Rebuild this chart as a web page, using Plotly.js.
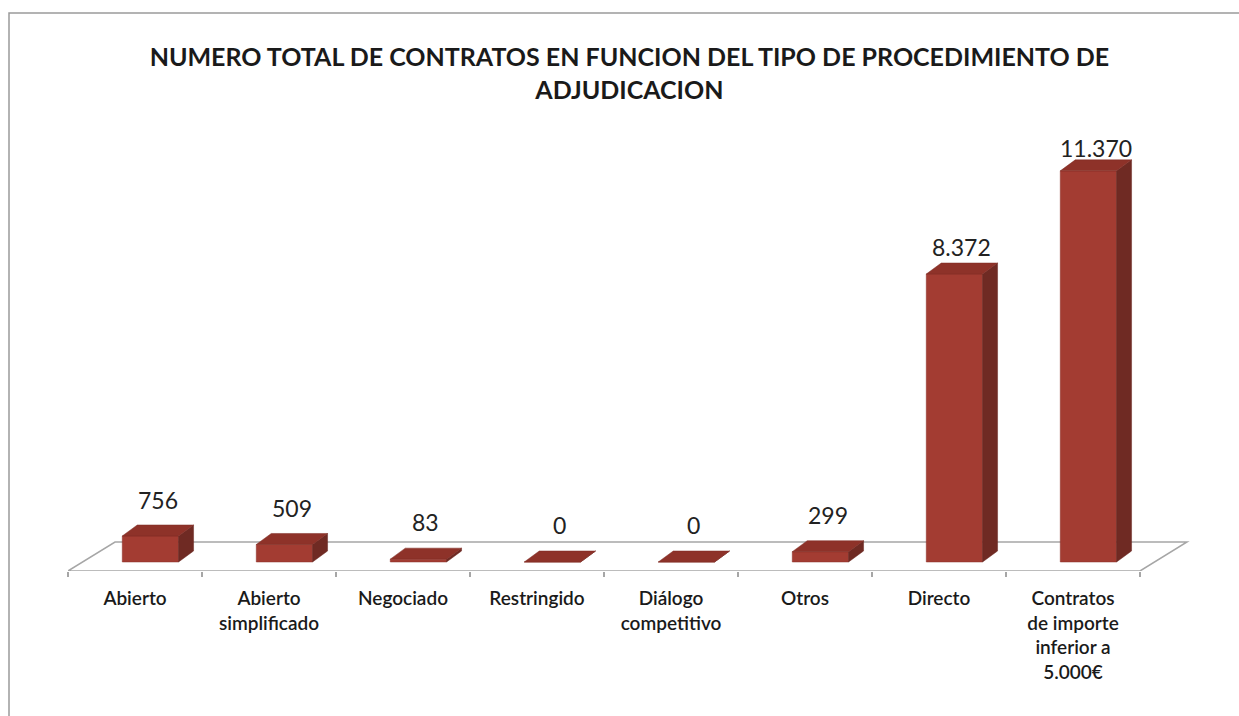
<!DOCTYPE html>
<html><head><meta charset="utf-8">
<script src="https://cdn.plot.ly/plotly-3.0.1.min.js"></script>
<style>html,body{margin:0;padding:0;background:#fff;}#chart{width:1239px;height:716px;}</style>
</head><body><div id="chart"></div>
<script>
// Data
var categories = ["Abierto", "Abierto<br>simplificado", "Negociado", "Restringido", "Diálogo<br>competitivo", "Otros", "Directo", "Contratos<br>de importe<br>inferior a<br>5.000€"];
var values = [756, 509, 83, 0, 0, 299, 8372, 11370];
var chartTitle = "NUMERO TOTAL DE CONTRATOS EN FUNCION DEL TIPO DE PROCEDIMIENTO DE<br>ADJUDICACION";

// Layout geometry
var W = 1239, H = 716;
var mL = 68, mR = 30, mT = 130, mB = 145;
var pxPerCat = 134;
var xMax = -0.5 + (W - mL - mR) / pxPerCat;
var yMin = -262, yMax = 12558;
var pxPerUnitY = (H - mT - mB) / (yMax - yMin);
var depthX = 15 / pxPerCat;       // 3D depth, category units
var depthY = 11 / pxPerUnitY;     // 3D depth, value units
var barShift = 0.115, barW = 0.42;
var floorBack = 581, floorShift = 47 / pxPerCat;
var maxV = Math.max.apply(null, values);

function fmt(v){ return String(v).replace(/\B(?=(\d{3})+(?!\d))/g, "."); }

var idx = categories.map(function(_, i){ return i; });
var frontX = idx.map(function(i){ return i + barShift; });

var sideX = [], sideY = [], topX = [], topY = [];
idx.forEach(function(i){
  var v = values[i];
  var xl = i + barShift - barW/2, xr = i + barShift + barW/2;
  sideX.push(xr, xr, xr + depthX, xr + depthX, xr, null);
  sideY.push(0, v, v + depthY, depthY, 0, null);
  topX.push(xl, xl + depthX, xr + depthX, xr, xl, null);
  topY.push(v, v + depthY, v + depthY, v, v, null);
});

var traces = [
  {type: "scatter", x: sideX, y: sideY, mode: "lines", fill: "toself",
   fillcolor: "#6f2a23", line: {color: "#6a2620", width: 0.5}, hoverinfo: "skip", showlegend: false},
  {type: "scatter", x: topX, y: topY, mode: "lines", fill: "toself",
   fillcolor: "#8e3229", line: {color: "#7e2c25", width: 0.5}, hoverinfo: "skip", showlegend: false},
  {type: "bar", x: frontX, y: values, width: barW, base: 0,
   marker: {color: "#a33c32", line: {color: "#8a3029", width: 0.5}},
   hoverinfo: "skip", showlegend: false}
];

var annotations = idx.map(function(i){
  return {x: i + barShift + depthX/2, y: values[i] + depthY, xref: "x", yref: "y",
          text: fmt(values[i]), showarrow: false, yshift: 26 - 14 * values[i] / maxV,
          font: {family: "Lato, 'Open Sans', sans-serif", size: 23, color: "#222"}};
});

var shapes = [
  {type: "path", xref: "x", yref: "y", layer: "below",
   path: "M -0.5," + yMin + " L 7.5," + yMin + " L " + (7.5 + floorShift) + "," + floorBack +
         " L " + (-0.5 + floorShift) + "," + floorBack + " Z",
   line: {color: "#a6a6a6", width: 1.5}, fillcolor: "#ffffff"},
  {type: "rect", xref: "paper", yref: "paper",
   x0: (9 - mL) / (W - mL - mR), x1: (W + 10 - mL) / (W - mL - mR),
   y0: -(H + 10 - (H - mB)) / (H - mT - mB), y1: 1 + (mT - 13) / (H - mT - mB),
   line: {color: "#9a9a9a", width: 1.5}, fillcolor: "rgba(0,0,0,0)", layer: "below"}
];

var boundaries = [];
for (var b = 0; b <= 8; b++) boundaries.push(b - 0.5);

var layout = {
  width: W, height: H,
  margin: {l: mL, r: mR, t: mT, b: mB},
  paper_bgcolor: "#ffffff", plot_bgcolor: "rgba(0,0,0,0)",
  title: {text: chartTitle, x: 0.508, xref: "container", y: 1 - 66/H, yref: "container",
          yanchor: "middle",
          font: {family: "Lato, 'Open Sans', sans-serif", size: 25, color: "#1a1a1a", weight: "bold"}},
  xaxis: {range: [-0.5, xMax], tickvals: idx, ticktext: categories, showgrid: false,
          zeroline: false, showline: false, ticks: "", ticklabelstandoff: 14,
          minor: {tickvals: boundaries, ticks: "outside", ticklen: 5, tickcolor: "#a6a6a6", tickwidth: 1.5, showgrid: false},
          tickfont: {family: "Lato, 'Open Sans', sans-serif", size: 19, color: "#1a1a1a", weight: 600},
          fixedrange: true},
  yaxis: {range: [yMin, yMax], visible: false, fixedrange: true},
  annotations: annotations,
  shapes: shapes,
  bargap: 0
};

Plotly.newPlot("chart", traces, layout, {displayModeBar: false, staticPlot: true});
</script></body></html>
